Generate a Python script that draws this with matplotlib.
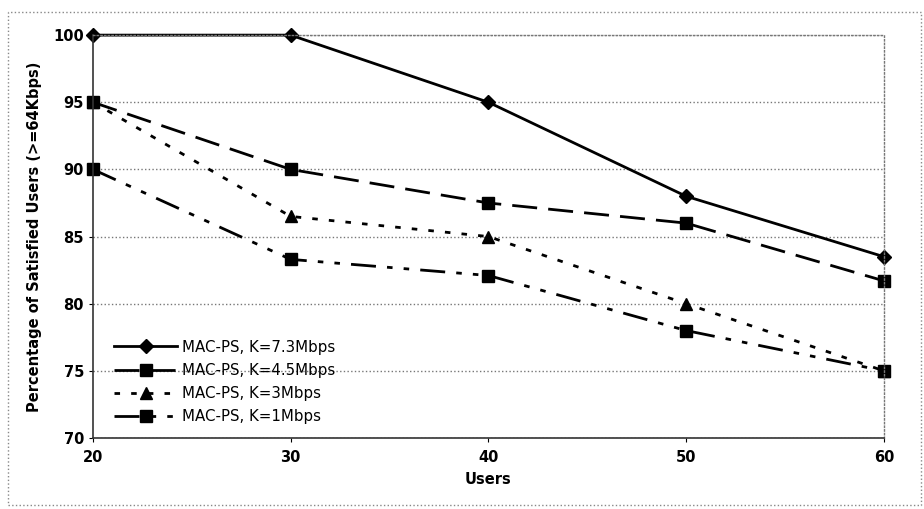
import matplotlib.pyplot as plt
from matplotlib.patches import Rectangle

users = [20, 30, 40, 50, 60]
k73 = [100, 100, 95, 88, 83.5]
k45 = [95, 90, 87.5, 86, 81.7]
k3 = [95, 86.5, 85, 80, 75]
k1 = [90, 83.3, 82.1, 78, 75]
labels = ["MAC-PS, K=7.3Mbps", "MAC-PS, K=4.5Mbps", "MAC-PS, K=3Mbps", "MAC-PS, K=1Mbps"]
yticks = [70, 75, 80, 85, 90, 95, 100]


def main():
    fig = plt.figure(figsize=(9.24, 5.09), dpi=100)
    ax = fig.add_axes([0.1006, 0.1395, 0.856, 0.7915])

    lw = 2.0
    ax.plot(users, k73, color='black', lw=lw, ls='-', marker='D', ms=7, label=labels[0], clip_on=False)
    ax.plot(users, k45, color='black', lw=lw, ls=(0, (9, 4)), marker='s', ms=9, label=labels[1], clip_on=False)
    ax.plot(users, k3, color='black', lw=lw, ls=(0, (2, 4)), marker='^', ms=9, label=labels[2], clip_on=False)
    ax.plot(users, k1, color='black', lw=lw, ls=(0, (9, 4, 2, 4, 2, 4)), marker='s', ms=9, label=labels[3], clip_on=False)

    ax.set_xlim(20, 60)
    ax.set_ylim(70, 100)
    ax.set_xticks(users)
    ax.set_yticks(yticks)
    ax.grid(axis='y', ls=':', color='#777777', lw=1)
    ax.tick_params(labelsize=10.5, length=3, width=0.8)
    for t in ax.get_xticklabels() + ax.get_yticklabels():
        t.set_fontweight('bold')
    ax.tick_params(axis='x', pad=6)

    for side in ('top', 'right'):
        ax.spines[side].set_linestyle(':')
        ax.spines[side].set_color('#777777')
        ax.spines[side].set_linewidth(1)
    for side in ('left', 'bottom'):
        ax.spines[side].set_color('#333333')
        ax.spines[side].set_linewidth(1.2)

    ax.set_xlabel("Users", fontsize=10.5, fontweight='bold', labelpad=5)
    ax.set_ylabel("Percentage of Satisfied Users (>=64Kbps)", fontsize=10.5, fontweight='bold', labelpad=8)

    ax.legend(loc='lower left', frameon=False, fontsize=10.8, handlelength=4.2,
              handletextpad=0.3, labelspacing=0.55, bbox_to_anchor=(0.01, 0.0))

    fig.patches.append(Rectangle((0.009, 0.008), 0.988, 0.968, transform=fig.transFigure,
                                 fill=False, ls=':', lw=1, edgecolor='#888888'))

    fig.savefig('out.png', dpi=100)
    plt.close(fig)


if __name__ == '__main__':
    main()
